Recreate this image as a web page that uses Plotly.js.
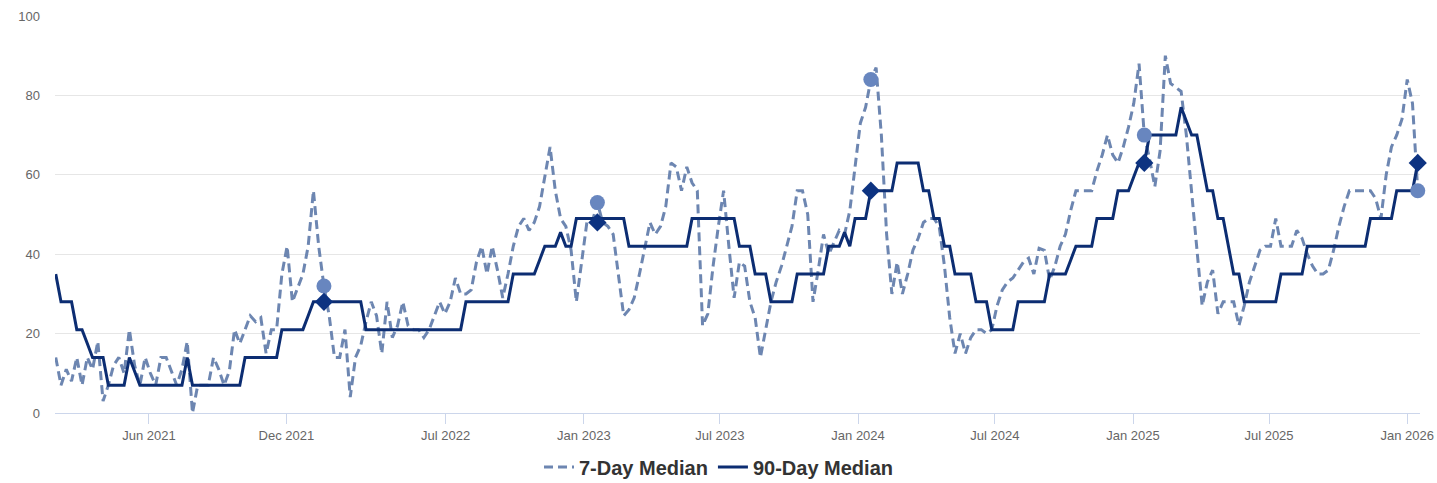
<!DOCTYPE html>
<html>
<head>
<meta charset="utf-8">
<script src="https://cdn.plot.ly/plotly-3.0.1.min.js"></script>
<style>
  html, body { margin: 0; padding: 0; background: #ffffff; }
  #chart { width: 1437px; height: 483px; }
</style>
</head>
<body>
<div id="chart"></div>
<script>
// ---- Data (weekly observations) ----
const startDate = '2021-01-28';

const sevenDayMedian = [
  14, 7, 11, 8, 14, 7, 14, 11, 18, 3,
  7, 12, 14, 10, 21, 12, 7, 14, 10, 7,
  14, 14, 10.5, 7, 11, 18, 0, 7, 7, 7,
  14, 11, 7, 10.5, 21, 17.5, 21, 24.5, 23, 24,
  15, 21, 21, 35, 42, 28, 31.5, 35, 42, 56,
  42, 32, 24.5, 14, 14, 21, 4, 14, 17, 23,
  28, 24.5, 15, 28, 19, 22, 28, 22, 21, 21,
  19, 21, 24.5, 28, 25, 28, 34, 30, 30, 31,
  38, 42, 35, 42, 36, 29, 35, 42, 47, 49,
  46, 48, 52, 60, 67, 56, 49, 47, 41, 28,
  38, 48, 48, 53, 48, 47, 45, 35, 24.5, 26,
  29, 35, 42, 48, 45, 47, 52, 63, 62, 56,
  62, 58, 56, 22, 25, 37, 47, 56, 42, 29,
  38, 37, 28, 24, 14, 21, 28, 33, 37, 42,
  47, 56, 56, 50, 28, 36, 45, 40, 43, 46,
  45, 51, 62, 73, 77, 84, 87, 70, 45, 30,
  38, 30, 35, 41, 44, 48, 49, 49, 47, 37,
  24, 15, 20, 15, 19, 21, 21, 20, 21, 27,
  31, 33, 34, 36, 38, 39, 35, 41.5, 41, 33.5,
  37, 42, 45, 51, 56, 56, 56, 56, 61, 65,
  70, 65, 63, 67, 72, 78, 88, 70, 64, 57,
  66, 90, 83, 82, 81, 70, 55, 40, 27, 33,
  36, 25, 28, 28, 28, 22, 27, 33, 37, 41,
  42, 42, 49, 42, 42, 42, 46, 44, 40, 37,
  35, 35, 36, 41, 47, 52, 56, 56, 56, 56,
  56, 54, 49, 60, 67, 70, 74, 84, 78, 56
];

const ninetyDayMedian = [
  35, 28, 28, 28, 21, 21, 17.5, 14, 14, 14,
  7, 7, 7, 7, 14, 10.5, 7, 7, 7, 7,
  7, 7, 7, 7, 7, 14, 7, 7, 7, 7,
  7, 7, 7, 7, 7, 7, 14, 14, 14, 14,
  14, 14, 14, 21, 21, 21, 21, 21, 24.5, 28,
  28, 28, 28, 28, 28, 28, 28, 28, 28, 21,
  21, 21, 21, 21, 21, 21, 21, 21, 21, 21,
  21, 21, 21, 21, 21, 21, 21, 21, 28, 28,
  28, 28, 28, 28, 28, 28, 28, 35, 35, 35,
  35, 35, 38.5, 42, 42, 42, 45.5, 42, 42, 49,
  49, 49, 49, 49, 49, 49, 49, 49, 49, 42,
  42, 42, 42, 42, 42, 42, 42, 42, 42, 42,
  42, 49, 49, 49, 49, 49, 49, 49, 49, 49,
  42, 42, 42, 35, 35, 35, 28, 28, 28, 28,
  28, 35, 35, 35, 35, 35, 35, 42, 42, 42,
  45.5, 42, 49, 49, 49, 56, 56, 56, 56, 56,
  63, 63, 63, 63, 63, 56, 56, 49, 49, 42,
  42, 35, 35, 35, 35, 28, 28, 28, 21, 21,
  21, 21, 21, 28, 28, 28, 28, 28, 28, 35,
  35, 35, 35, 38.5, 42, 42, 42, 42, 49, 49,
  49, 49, 56, 56, 56, 59.5, 63, 63, 70, 70,
  70, 70, 70, 70, 77, 73.5, 70, 70, 63, 56,
  56, 49, 49, 42, 35, 35, 28, 28, 28, 28,
  28, 28, 28, 35, 35, 35, 35, 35, 42, 42,
  42, 42, 42, 42, 42, 42, 42, 42, 42, 42,
  49, 49, 49, 49, 49, 56, 56, 56, 56, 63
];

// Highlighted yearly points
const markerDates = ['2022-01-20', '2023-01-19', '2024-01-18', '2025-01-16', '2026-01-15'];
const marker7Day  = [32, 53, 84, 70, 56];
const marker90Day = [28, 48, 56, 63, 63];

// Axis ticks
const xTickDates  = ['2021-06-01', '2021-12-01', '2022-07-01', '2023-01-01', '2023-07-01',
                     '2024-01-01', '2024-07-01', '2025-01-01', '2025-07-01', '2026-01-01'];
const xTickLabels = ['Jun 2021', 'Dec 2021', 'Jul 2022', 'Jan 2023', 'Jul 2023',
                     'Jan 2024', 'Jul 2024', 'Jan 2025', 'Jul 2025', 'Jan 2026'];
const yTickVals   = [0, 20, 40, 60, 80, 100];

// weekly dates
function weekDates(start, n) {
  const out = [];
  const t0 = Date.parse(start + 'T00:00:00Z');
  for (let i = 0; i < n; i++) {
    const d = new Date(t0 + i * 7 * 86400000);
    out.push(d.toISOString().slice(0, 10));
  }
  return out;
}
const dates = weekDates(startDate, sevenDayMedian.length);

const C7 = '#6d86b1';
const C90 = '#0c2d72';

const traces = [
  {
    x: dates, y: sevenDayMedian, type: 'scatter', mode: 'lines',
    name: '7-Day Median',
    line: { color: C7, width: 3, dash: '9px,5px' },
    hoverinfo: 'skip'
  },
  {
    x: dates, y: ninetyDayMedian, type: 'scatter', mode: 'lines',
    name: '90-Day Median',
    line: { color: C90, width: 3 },
    hoverinfo: 'skip'
  },
  {
    x: markerDates, y: marker7Day, type: 'scatter', mode: 'markers',
    showlegend: false, cliponaxis: false,
    marker: { symbol: 'circle', size: 15, color: '#6886bf' },
    hoverinfo: 'skip'
  },
  {
    x: markerDates, y: marker90Day, type: 'scatter', mode: 'markers',
    showlegend: false, cliponaxis: false,
    marker: { symbol: 'diamond', size: 14, color: '#0d3381' },
    hoverinfo: 'skip'
  }
];

const layout = {
  width: 1437, height: 483,
  margin: { l: 55, r: 17, t: 16, b: 70 },
  paper_bgcolor: '#ffffff', plot_bgcolor: '#ffffff',
  font: { family: 'Arial, "Liberation Sans", sans-serif', size: 13, color: '#666666' },
  showlegend: true,
  legend: {
    orientation: 'h', xref: 'container', yref: 'container',
    x: 0.5, xanchor: 'center', y: 0.033, yanchor: 'middle',
    font: { size: 20, color: '#333333', family: 'Arial, "Liberation Sans", sans-serif', weight: 'bold' },
    itemwidth: 30
  },
  xaxis: {
    type: 'date',
    range: ['2021-01-27', '2026-01-18'],
    tickmode: 'array', tickvals: xTickDates, ticktext: xTickLabels,
    ticks: 'outside', ticklen: 10, tickcolor: '#ccd6eb', tickwidth: 1,
    showgrid: false, zeroline: false,
    showline: true, linecolor: '#ccd6eb', linewidth: 1,
    tickfont: { size: 13, color: '#666666' }
  },
  yaxis: {
    range: [0, 100],
    tickmode: 'array', tickvals: yTickVals,
    showgrid: true, gridcolor: '#e6e6e6', gridwidth: 1,
    zeroline: false, showline: false,
    ticks: '', ticklabelstandoff: 14,
    tickfont: { size: 13, color: '#666666' }
  }
};

Plotly.newPlot('chart', traces, layout, { displayModeBar: false, staticPlot: true });
</script>
</body>
</html>
